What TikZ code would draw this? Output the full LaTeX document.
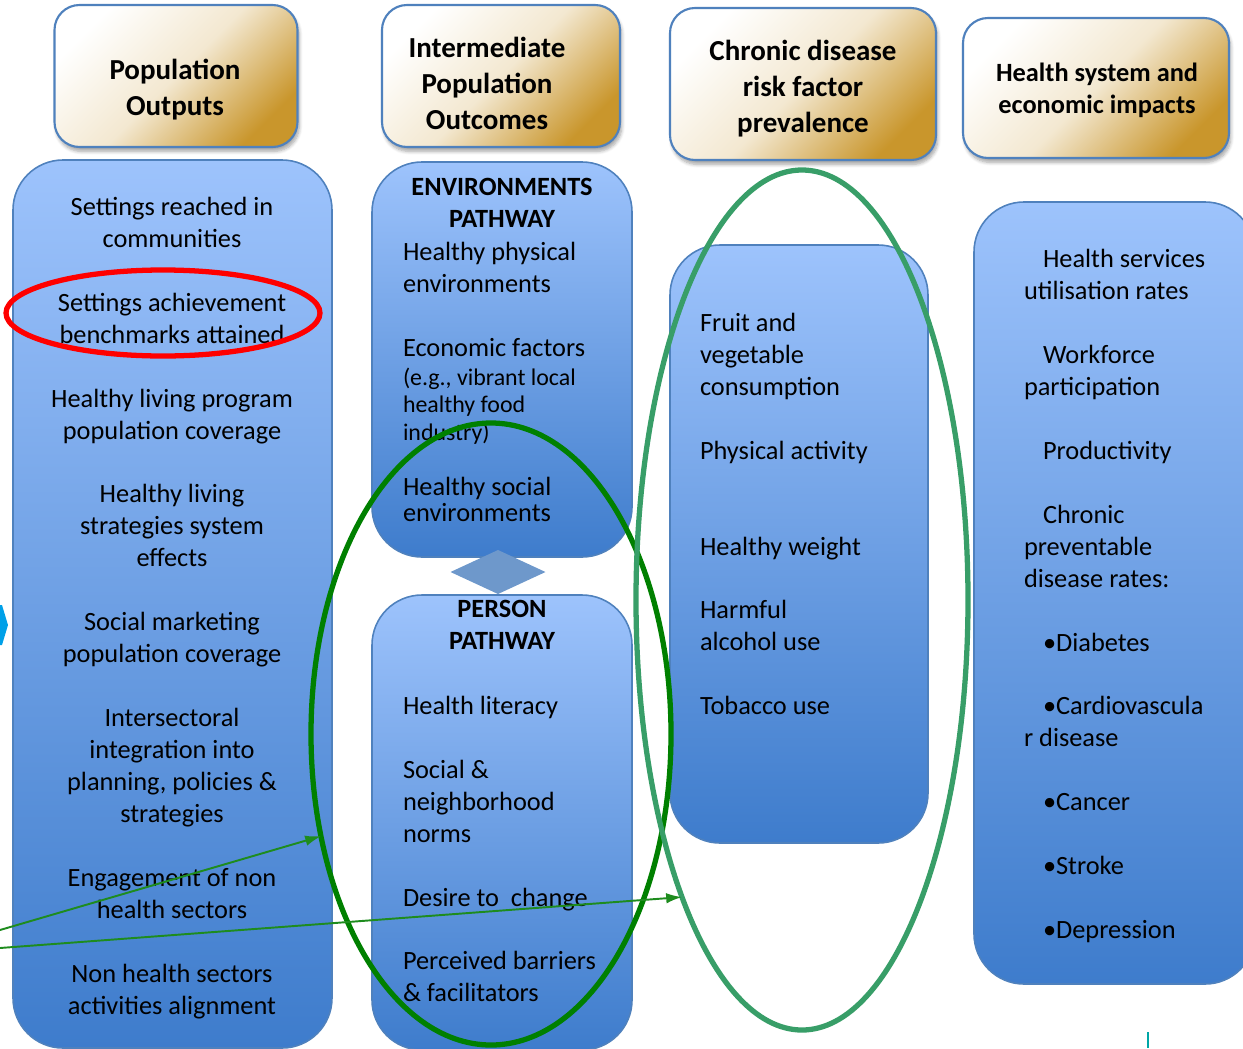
\documentclass[tikz,border=0pt]{standalone}
\usepackage{fontspec}
\setmainfont{Carlito}
\usetikzlibrary{positioning,shapes.geometric,arrows.meta,shadows.blur}
\definecolor{boxblue}{RGB}{79,129,189}
\definecolor{topblue}{RGB}{157,195,252}
\definecolor{lowblue}{RGB}{62,124,204}
\definecolor{gold}{RGB}{201,150,44}
\definecolor{ringgreen}{RGB}{0,128,0}
\definecolor{seagreen}{RGB}{56,158,104}
\definecolor{tipgreen}{RGB}{30,140,30}
\definecolor{diamondblue}{RGB}{110,152,203}
\definecolor{chevron}{RGB}{0,160,232}
\newcommand\gapline{\\[18.2pt]}
\newcommand\firstind{\hspace*{0.38cm}}

\begin{document}
\begin{tikzpicture}[x=0.02cm, y=-0.02cm,
  every node/.style={inner sep=0pt, outer sep=0pt},
  size/.style 2 args={minimum width=#1*0.02cm, minimum height=#2*0.02cm},
  head/.style={draw=boxblue, line width=1.2pt, rounded corners=0.5cm,
    top color=white, bottom color=gold, middle color=gold!22!white, shading angle=45,
    blur shadow={shadow xshift=1pt, shadow yshift=-2.5pt, shadow blur steps=6, shadow opacity=35}},
  col/.style={draw=boxblue, line width=0.9pt, rounded corners=1cm, top color=topblue, bottom color=lowblue},
  headtext/.style={font=\bfseries\fontsize{16.5}{20.5}\selectfont, align=center},
  body/.style={font=\fontsize{15}{18.2}\selectfont},
  bodyb/.style={font=\bfseries\fontsize{15}{18.2}\selectfont, align=center},
  ring/.style={ellipse, draw=#1, line width=3pt},
  link/.style={draw=tipgreen, line width=1.1pt, -{Latex[length=9pt, width=6pt]}}]
  \useasboundingbox (0,0) rectangle (1243,1048);
  \clip (0,0) rectangle (1243,1048);

  % column headings
  \node[head, size={243}{142}] (h1) at (176,76) {};
  \node[head, size={238}{142}] (h2) at (501,76) {};
  \node[head, size={266}{152}] (h3) at (803,84) {};
  \node[head, size={266}{140}] (h4) at (1096,88) {};
  \node[headtext] (ht1) at (175,90) {Population\\Outputs};
  \node[headtext] (ht2) at (487,83) {Intermediate\\Population\\Outcomes};
  \node[headtext] (ht3) at (803,89) {Chronic disease\\risk factor\\prevalence};
  \node[headtext, font=\bfseries\fontsize{15}{18.2}\selectfont] (ht4) at (1097,90) {Health system and\\economic impacts};

  % blue columns
  \node[col, size={319}{888}] (c1) at (172.5,604) {};
  \node[col, size={260}{395}] (c2a) at (502,359.5) {};
  \node[col, size={260}{455}] (c2b) at (502,822.5) {};
  \node[col, size={258}{598}] (c3) at (799,544) {};
  \node[col, size={281}{782}] (c4) at (1114.5,593) {};
  \node[diamond, fill=diamondblue, size={95}{44}] (dm) at (498,572) {};

  % column texts
  \node[body, align=center] (c1t) at (172,608) {Settings reached in\\communities\gapline
    Settings achievement\\benchmarks attained\gapline
    Healthy living program\\population coverage\gapline
    Healthy living\\strategies system\\effects\gapline
    Social marketing\\population coverage\gapline
    Intersectoral\\integration into\\planning, policies \&\\strategies\gapline
    Engagement of non\\health sectors\gapline
    Non health sectors\\activities alignment};

  \node[bodyb] (e0) at (502,203) {ENVIRONMENTS\\PATHWAY};
  \node[body, align=left, anchor=west] (e1) at (403,299) {Healthy physical\\environments\gapline Economic factors};
  \node[font=\fontsize{13.6}{15.6}\selectfont, align=left, anchor=west] (e2) at (403,406) {(e.g., vibrant local\\healthy food\\industry)};
  \node[font=\fontsize{15}{14.8}\selectfont, align=left, anchor=west] (e3) at (403,499) {Healthy social\\environments};

  \node[bodyb] (p0) at (502,625) {PERSON\\PATHWAY};
  \node[body, align=left, anchor=west] (p1) at (403,849) {Health literacy\gapline
    Social \&\\neighborhood\\norms\gapline
    Desire to~ change\gapline
    Perceived barriers\\\& facilitators};

  \node[body, align=left, anchor=west] (c3t) at (700,514) {Fruit and\\vegetable\\consumption\gapline
    Physical activity\\[36.4pt]
    Healthy weight\gapline
    Harmful\\alcohol use\gapline
    Tobacco use};

  \node[body, align=left, anchor=west] (c4t) at (1024,596) {\firstind Health services\\utilisation rates\gapline
    \firstind Workforce\\participation\gapline
    \firstind Productivity\gapline
    \firstind Chronic\\preventable\\disease rates:\gapline
    \firstind •Diabetes\gapline
    \firstind •Cardiovascula\\r disease\gapline
    \firstind •Cancer\gapline
    \firstind •Stroke\gapline
    \firstind •Depression};

  % highlight rings
  \node[ring=red, size={314}{86}] (re) at (163,313) {};
  \node[ring=ringgreen, size={360}{622}] (ge) at (491,734) {};
  \node[ring=seagreen, size={332}{860}] (se) at (802,600) {};

  % links
  \coordinate (s1) at (0,930);
  \coordinate (s2) at (0,948);
  \draw[link] (s1) -- (ge.211);
  \draw[link] (s2) -- (se.248);

  \fill[chevron] (0,605) -- (2,605) -- (8,625) -- (2,645) -- (0,645) -- cycle;
  \draw[teal!70!cyan, line width=0.8pt] (1148,1032) -- (1148,1048);
\end{tikzpicture}
\end{document}
